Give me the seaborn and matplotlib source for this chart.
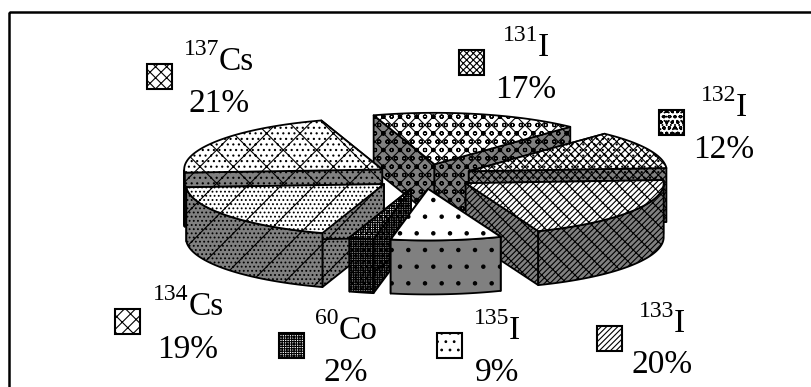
import numpy as np
import matplotlib
matplotlib.use("Agg")
import matplotlib.pyplot as plt
from matplotlib.patches import Polygon, Rectangle
import seaborn as sns

# clockwise from the left side of the pie
isotopes = ['137', '131', '132', '133', '135', '60', '134']
elements = ['Cs', 'I', 'I', 'I', 'I', 'Co', 'Cs']
shares = [21, 17, 12, 20, 9, 2, 19]
hatches = ['x...', 'xxoo', 'xxxx...', '////xx', '.', '+++++++...', '/....']
swatch_hatches = ['xxx', 'xxxxx', 'ooo....', '//////', '..', '+++++++', 'xx/']

# label positions in pixels: swatch left/top, text centre, name baseline, percent baseline
swatch_xy = [(147, 64), (459, 50), (659, 110), (597, 326), (437, 333), (279, 333), (115, 309)]
text_xy = [(219, 70, 112), (526, 56, 98), (724, 116, 158), (662, 332, 373), (497, 339, 381), (346, 339, 381), (188, 315, 358)]

sns.set_theme(style='white')
plt.rcParams['font.family'] = ['Liberation Serif', 'DejaVu Serif']
plt.rcParams['hatch.linewidth'] = 0.8

fig = plt.figure(figsize=(8.11, 3.87), dpi=100)
ax = fig.add_axes([0, 0, 1, 1])
ax.set_xlim(0, 811)
ax.set_ylim(387, 0)
ax.axis('off')

CX, CY = 423.5, 176.5
R, SQUASH, DEPTH, EXPLODE = 198, 0.26, 54, 50
START = 183.5
GREY = '#808080'


def face(points, fill, hatch, z):
    ax.add_patch(Polygon(points, closed=True, facecolor=fill, edgecolor='black',
                         hatch=hatch, linewidth=1.3, zorder=z, joinstyle='round'))


def ring(ox, oy, angles, drop=0):
    rad = np.radians(angles)
    return np.column_stack([ox + R * np.cos(rad), oy - R * SQUASH * np.sin(rad) + drop])


ends = START - np.cumsum(shares) * 3.6
starts = ends + np.array(shares) * 3.6
mids = (starts + ends) / 2
off_x = CX + EXPLODE * np.cos(np.radians(mids))
off_y = CY - EXPLODE * 0.25 * np.sin(np.radians(mids))

# back slices first
for rank, i in enumerate(np.argsort(off_y)):
    z = 10 + rank * 10
    ox, oy = off_x[i], off_y[i]
    arc = np.linspace(starts[i], ends[i], 80)
    top = ring(ox, oy, arc)
    apex = np.array([[ox, oy]])
    for edge in [top[0], top[-1]]:
        wall = np.array([[ox, oy], edge, edge + [0, DEPTH], [ox, oy + DEPTH]])
        face(wall, GREY, hatches[i], z + (1 if edge[1] > oy else 0))
    front = arc[np.sin(np.radians(arc)) < 0]
    if len(front) > 1:
        upper = ring(ox, oy, front)
        lower = ring(ox, oy, front, DEPTH)
        face(np.vstack([upper, lower[::-1]]), GREY, hatches[i], z + 2)
    face(np.vstack([apex, top]), 'white', hatches[i], z + 3)

renderer = fig.canvas.get_renderer()
for i in range(len(shares)):
    sx, sy = swatch_xy[i]
    ax.add_patch(Rectangle((sx, sy), 25, 25, facecolor='white', edgecolor='black',
                           hatch=swatch_hatches[i], linewidth=1.5, zorder=200))
    tx, name_y, pct_y = text_xy[i]
    # superscript is raised further than mathtext would put it
    sup = ax.text(0, name_y - 15, isotopes[i], fontsize=17, ha='left', va='baseline',
                  color='black', zorder=200)
    el = ax.text(0, name_y, elements[i], fontsize=24, ha='left', va='baseline',
                 color='black', zorder=200)
    w1 = sup.get_window_extent(renderer).width
    w2 = el.get_window_extent(renderer).width
    sup.set_x(tx - (w1 + w2) / 2)
    el.set_x(tx - (w1 + w2) / 2 + w1)
    ax.text(tx, pct_y, '%d%%' % shares[i], fontsize=24,
            ha='center', va='baseline', color='black', zorder=200)

# frame runs off the right and bottom of the picture
ax.add_patch(Rectangle((9, 12), 840, 420, fill=False, edgecolor='black', linewidth=1.8,
                       zorder=300))

fig.savefig('out.png', dpi=100)
